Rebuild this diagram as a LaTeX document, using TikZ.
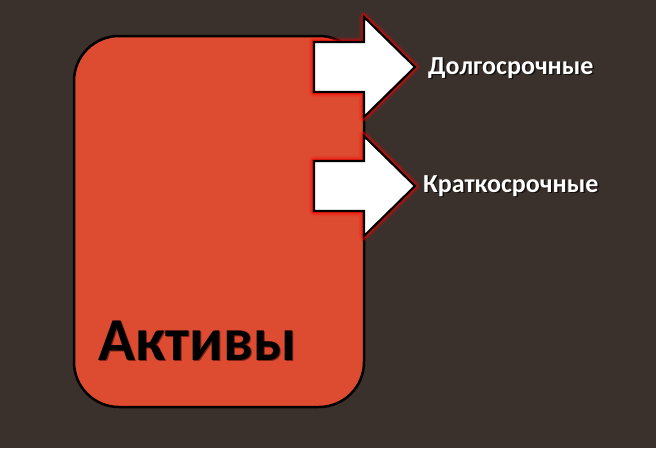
\documentclass[tikz,border=0pt]{standalone}
\usepackage{fontspec}
\setmainfont{Carlito}
\begin{document}
\begin{tikzpicture}[x=1pt,y=-1pt,
  arrowshape/.style={fill=white,draw=black,line width=2.2pt,line join=miter},
  glowa/.style={draw=red,line width=10pt,opacity=0.15,line join=round},
  glow/.style={draw=red,line width=7pt,opacity=0.25,line join=round},
  glowb/.style={draw=red,line width=4.5pt,opacity=0.45,line join=miter},
  lbl/.style={text=white,font=\bfseries\fontsize{26}{30}\selectfont,inner sep=0pt},
  lblsh/.style={text=black,opacity=0.7,font=\bfseries\fontsize{26}{30}\selectfont,inner sep=0pt}]
\fill[fill={rgb,255:red,58;green,49;blue,44}] (0,0) rectangle (656,448);
\useasboundingbox (0,0) rectangle (656,448);
\draw[fill={rgb,255:red,221;green,75;blue,48},draw=black,line width=2.5pt,rounded corners=45pt] (74,36) rectangle (364,407);
% arrows
\foreach \s/\yc in {glowa/67,glow/67,glowb/67,arrowshape/67,glowa/186,glow/186,glowb/186,arrowshape/186}{
  \path[\s] (314,\yc-25) -- (364,\yc-25) -- (364,\yc-50) -- (415,\yc) -- (364,\yc+50) -- (364,\yc+25) -- (314,\yc+25) -- cycle;
}
\coordinate (a1) at (415,68);
\coordinate (a2) at (415,186);
\node[lblsh,anchor=west] at ([xshift=14.5pt,yshift=-1.5pt]a1) {Долгосрочные};
\node[lbl,anchor=west] (l1) at ([xshift=13pt]a1) {Долгосрочные};
\node[lblsh,anchor=west] at ([xshift=9.5pt,yshift=-1.5pt]a2) {Краткосрочные};
\node[lbl,anchor=west] (l2) at ([xshift=8pt]a2) {Краткосрочные};
\node[anchor=base west,inner sep=0pt,text={rgb,255:red,90;green,20;blue,10},opacity=0.7,font=\bfseries\fontsize{61}{66}\selectfont] at (99.5,361.5) {Активы};
\node[anchor=base west,inner sep=0pt,text=black,font=\bfseries\fontsize{61}{66}\selectfont] (t) at (98,360) {Активы};
\end{tikzpicture}
\end{document}
